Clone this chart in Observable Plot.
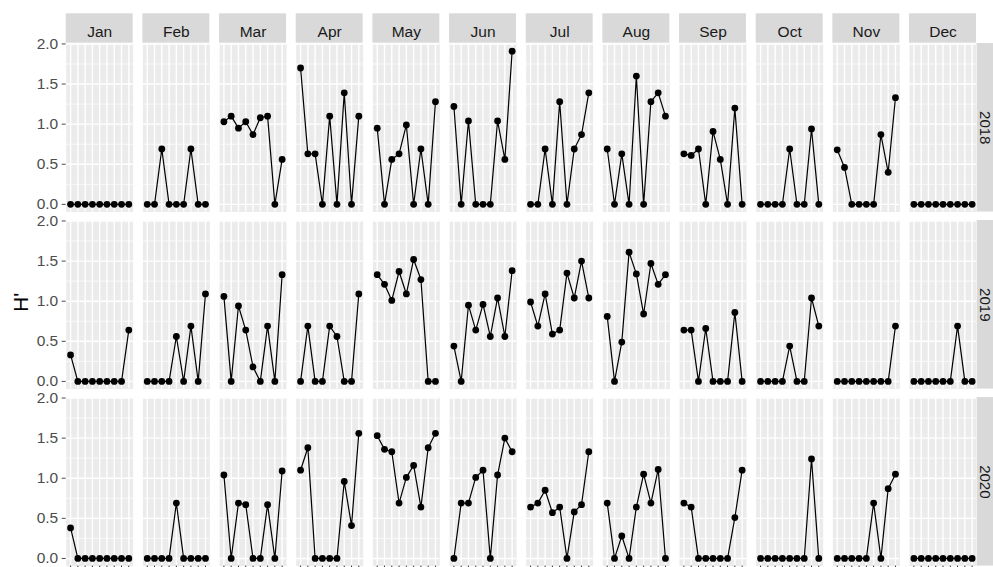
<!DOCTYPE html>
<html><head><meta charset="utf-8">
<script src="https://cdn.jsdelivr.net/npm/d3@7"></script>
<script src="https://cdn.jsdelivr.net/npm/@observablehq/plot@0.6"></script>
<style>body{margin:0;background:#fff}#chart{width:993px;height:567px;overflow:hidden}</style>
</head><body><div id="chart"></div>
<script>
const months = ["Jan","Feb","Mar","Apr","May","Jun","Jul","Aug","Sep","Oct","Nov","Dec"];
const years = ["2018","2019","2020"];
const positions = [1,2,3,4,5,6,7,8,9];
const yTicks = [0,0.5,1,1.5,2];
const yMinor = [0.25,0.75,1.25,1.75];

const h2018 = [
  [0,0,0,0,0,0,0,0,0],
  [0,0,0.69,0,0,0,0.69,0,0],
  [1.03,1.10,0.95,1.03,0.87,1.08,1.10,0,0.56],
  [1.70,0.63,0.63,0,1.10,0,1.39,0,1.10],
  [0.95,0,0.56,0.63,0.99,0,0.69,0,1.28],
  [1.22,0,1.04,0,0,0,1.04,0.56,1.91],
  [0,0,0.69,0,1.28,0,0.69,0.87,1.39],
  [0.69,0,0.63,0,1.60,0,1.28,1.39,1.10],
  [0.63,0.61,0.69,0,0.91,0.56,0,1.20,0],
  [0,0,0,0,0.69,0,0,0.94,0],
  [0.68,0.46,0,0,0,0,0.87,0.40,1.33],
  [0,0,0,0,0,0,0,0,0]
];
const h2019 = [
  [0.33,0,0,0,0,0,0,0,0.64],
  [0,0,0,0,0.56,0,0.69,0,1.09],
  [1.06,0,0.94,0.64,0.18,0,0.69,0,1.33],
  [0,0.69,0,0,0.69,0.56,0,0,1.09],
  [1.33,1.21,1.01,1.37,1.09,1.52,1.27,0,0],
  [0.44,0,0.95,0.64,0.96,0.56,1.04,0.56,1.38],
  [0.99,0.69,1.09,0.59,0.64,1.35,1.04,1.50,1.04],
  [0.81,0,0.49,1.61,1.34,0.84,1.47,1.21,1.33],
  [0.64,0.64,0,0.66,0,0,0,0.86,0],
  [0,0,0,0,0.44,0,0,1.04,0.69],
  [0,0,0,0,0,0,0,0,0.69],
  [0,0,0,0,0,0,0.69,0,0]
];
const h2020 = [
  [0.38,0,0,0,0,0,0,0,0],
  [0,0,0,0,0.69,0,0,0,0],
  [1.04,0,0.69,0.67,0,0,0.67,0,1.09],
  [1.10,1.38,0,0,0,0,0.96,0.41,1.56],
  [1.53,1.36,1.33,0.69,1.01,1.16,0.64,1.38,1.56],
  [0,0.69,0.69,1.01,1.10,0,1.04,1.50,1.33],
  [0.64,0.69,0.85,0.57,0.64,0,0.58,0.67,1.33],
  [0.69,0,0.28,0,0.64,1.05,0.69,1.11,0],
  [0.69,0.64,0,0,0,0,0,0.51,1.10],
  [0,0,0,0,0,0,0,1.24,0],
  [0,0,0,0,0,0.69,0,0.87,1.05],
  [0,0,0,0,0,0,0,0,0]
];
const byYear = [h2018, h2019, h2020];

const data = years.flatMap((yr, yi) => months.flatMap((m, mi) =>
  byYear[yi][mi].map((v, i) => ({year: yr, month: m, pos: positions[i], h: v}))));

const font = "'Liberation Sans', Arial, sans-serif";
const plot = Plot.plot({
  width: 993, height: 567,
  marginTop: 43, marginBottom: 1.4, marginLeft: 65.7, marginRight: 17,
  style: {fontFamily: font, background: "white", overflow: "visible"},
  fx: {domain: months, paddingInner: 0.1264, paddingOuter: 0, round: false, label: null},
  fy: {domain: years, paddingInner: 0.048, paddingOuter: 0, round: false, label: null},
  x: {type: "point", domain: positions, padding: 0.6, round: false, label: null},
  y: {domain: [-0.0955, 2.0055], label: null},
  marks: [
    Plot.frame({fill: "#EBEBEB", stroke: null}),
    Plot.gridY(yMinor, {stroke: "white", strokeOpacity: 1, strokeWidth: 0.7}),
    Plot.gridY(yTicks, {stroke: "white", strokeOpacity: 1, strokeWidth: 1.4}),
    Plot.gridX(positions, {stroke: "white", strokeOpacity: 1, strokeWidth: 1.4}),
    Plot.line(data, {fx: "month", fy: "year", x: "pos", y: "h", stroke: "black", strokeWidth: 1.2}),
    Plot.dot(data, {fx: "month", fy: "year", x: "pos", y: "h", fill: "black", stroke: null, r: 3.4}),
    Plot.axisY(yTicks, {anchor: "left", tickSize: 4, tickPadding: 4, tickFormat: d3.format(".1f"), fontSize: 15.5, color: "#4D4D4D", label: null}),
    Plot.axisX(positions, {anchor: "bottom", tickSize: 3, tickFormat: () => "", color: "#333333", label: null}),
    Plot.axisFx({anchor: "top", tickSize: 0, tickPadding: 11, lineAnchor: "middle", fontSize: 15.5, fill: "#1A1A1A", label: null}),
    Plot.axisFy({anchor: "right", tickSize: 0, tickPadding: 8, tickRotate: 90, textAnchor: "middle", lineAnchor: "middle", fontSize: 15, fill: "#1A1A1A", label: null})
  ]
});

const svg = d3.select(plot);
const fx = plot.scale("fx"), fy = plot.scale("fy");
const strips = svg.insert("g", "g");
months.forEach(m => strips.append("rect")
  .attr("x", fx.apply(m)).attr("y", 13.3)
  .attr("width", fx.bandwidth).attr("height", 29.4).attr("fill", "#D9D9D9"));
const rightEdge = fx.apply(months[months.length - 1]) + fx.bandwidth;
years.forEach(y => strips.append("rect")
  .attr("x", rightEdge + 0.7).attr("y", fy.apply(y))
  .attr("width", 23).attr("height", fy.bandwidth).attr("fill", "#D9D9D9"));
const fyFirst = fy.apply(years[0]), fyLast = fy.apply(years[years.length - 1]) + fy.bandwidth;
svg.append("text")
  .attr("transform", `translate(28,${(fyFirst + fyLast) / 2 - 2}) rotate(-90)`)
  .attr("text-anchor", "middle").attr("font-size", 20.5).attr("fill", "black")
  .attr("font-family", font).text("H'");

document.getElementById("chart").appendChild(plot);
</script>
</body></html>
